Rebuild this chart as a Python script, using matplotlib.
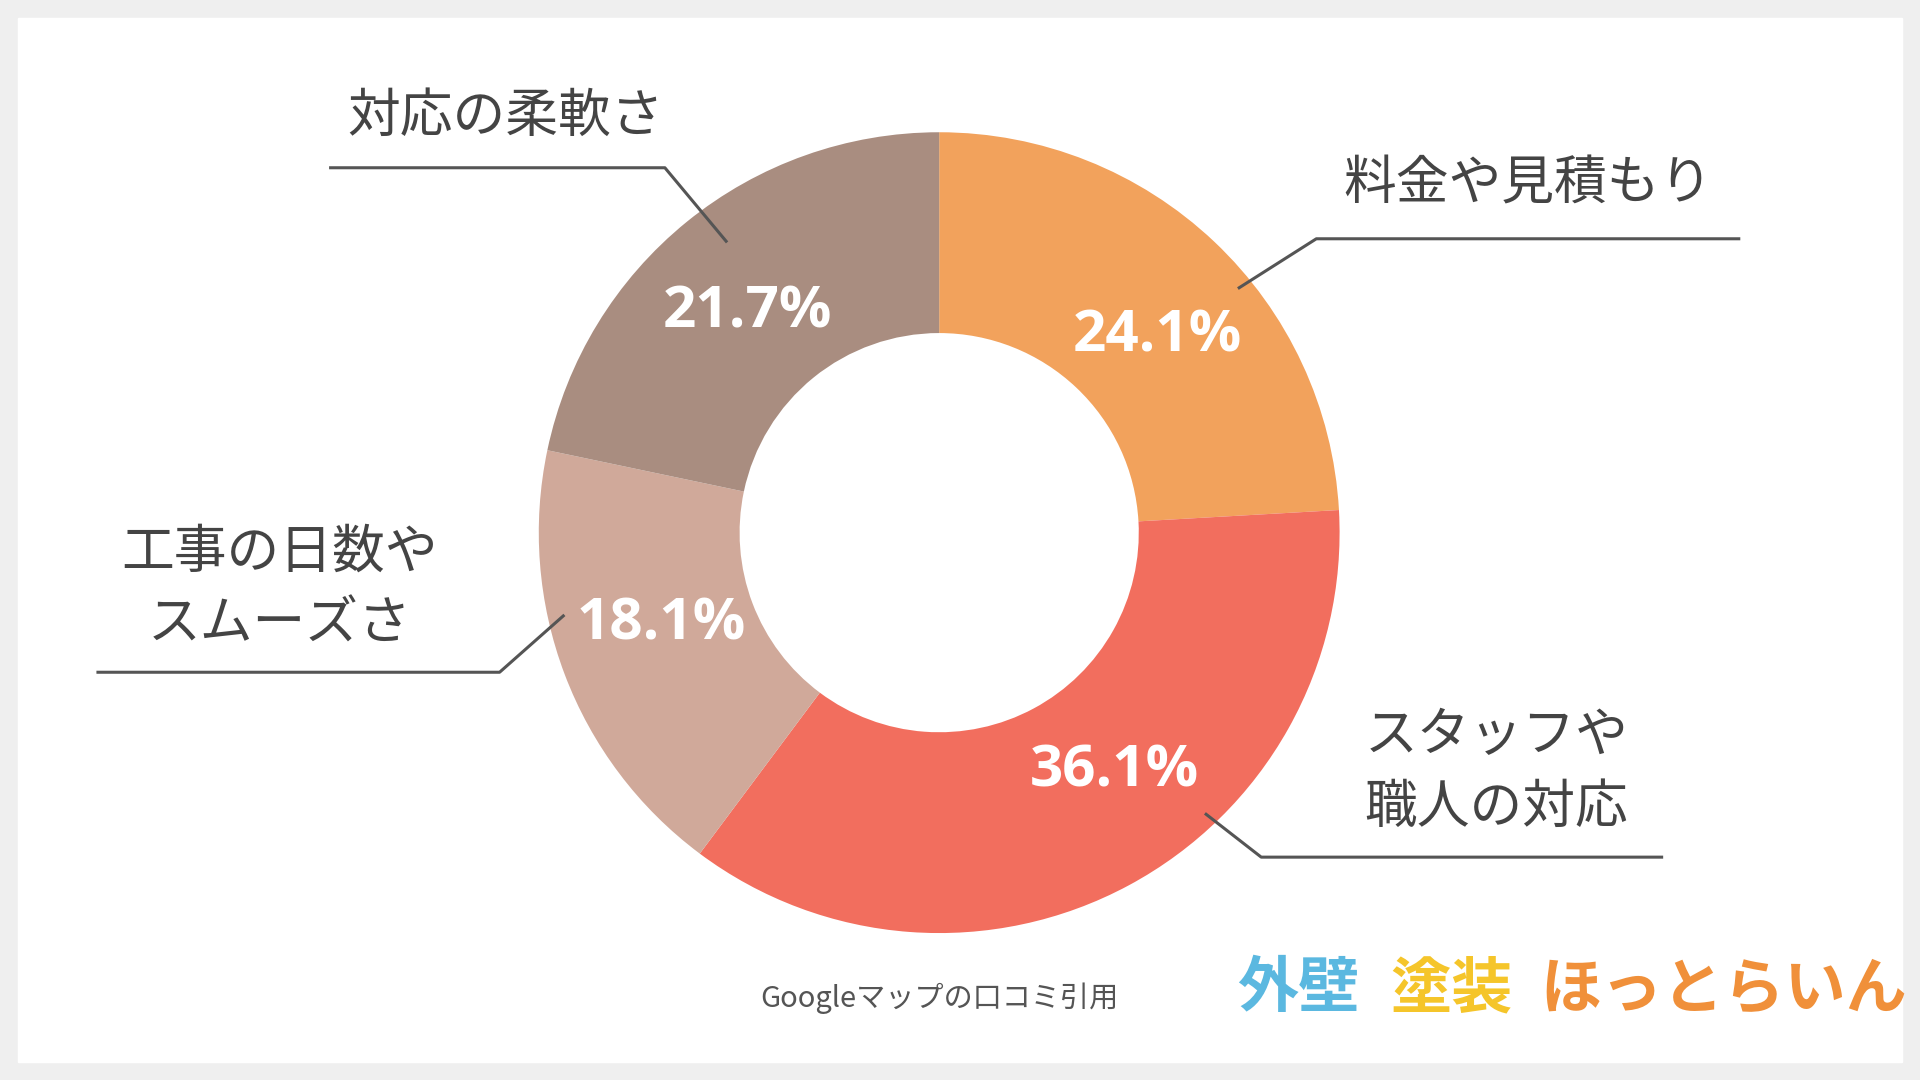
import matplotlib.pyplot as plt
from matplotlib.patches import Rectangle

labels = ["料金や見積もり", "スタッフや\n職人の対応", "工事の日数や\nスムーズさ", "対応の柔軟さ"]
shares = [24.1, 36.1, 18.1, 21.7]
colors = ["#F2A25C", "#F26E5E", "#D0A99A", "#A98D80"]

W, H = 1568, 882
fig = plt.figure(figsize=(19.2, 10.8), dpi=100)
fig.patch.set_facecolor("#EFEFEF")
ax = fig.add_axes([0, 0, 1, 1])
ax.set_xlim(0, W)
ax.set_ylim(0, H)
ax.axis("off")
ax.add_patch(Rectangle((15, 15), W - 30, H - 30, color="white", zorder=0))

cx, cy = 767, H - 435
wedges, _, autotexts = ax.pie(
    shares, colors=colors, center=(cx, cy), radius=327, startangle=90,
    counterclock=False, wedgeprops=dict(width=164), pctdistance=0.76,
    autopct=lambda p: f"{p:.1f}%",
    textprops=dict(color="white", fontsize=42, fontweight="bold", family="Open Sans"))
# nudge the percent labels to where they sit in the reference
pct_pos = [(945, 275), (910, 630), (540, 510), (610, 255)]
for t, (px, py) in zip(autotexts, pct_pos):
    t.set_position((px, H - py))
ax.set_xlim(0, W)
ax.set_ylim(0, H)
ax.set_aspect("equal")

jp = "Noto Sans CJK JP"
txt = "#444444"
callouts = [
    (1248, 150, [(1012, 235), (1075, 195), (1420, 195)]),
    (1222, 630, [(985, 665), (1030, 700), (1357, 700)]),
    (228, 480, [(460, 503), (408, 549), (80, 549)]),
    (413, 95, [(593, 197), (543, 137), (270, 137)]),
]
for lab, (tx, ty, pts) in zip(labels, callouts):
    ax.text(tx, H - ty, lab, fontsize=38, family=jp, color=txt,
            ha="center", va="center", linespacing=1.4)
    ax.plot([p[0] for p in pts], [H - p[1] for p in pts], color="#555555", lw=2.2)

ax.text(767, H - 815, "Googleマップの口コミ引用", fontsize=21, family=jp,
        color="#555555", ha="center", va="center")
for s, x, c in [("外壁", 1010, "#5BB8E0"), ("塗装", 1135, "#F5C52A"), ("ほっとらいん", 1258, "#F0903A")]:
    ax.text(x, H - 808, s, fontsize=44, family=jp, fontweight="bold", color=c,
            ha="left", va="center")

fig.savefig("out.png", dpi=100, facecolor=fig.get_facecolor())
